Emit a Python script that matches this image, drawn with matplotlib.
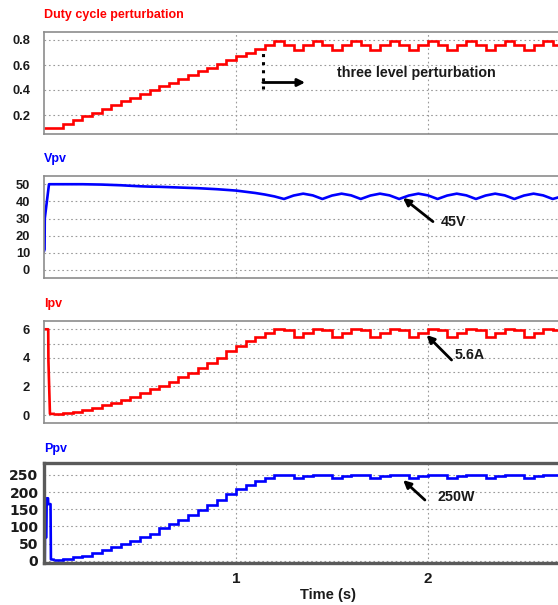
import numpy as np
import matplotlib
matplotlib.use('Agg')
import matplotlib.pyplot as plt

# values (time grid of 0.05 s)
edges = np.round(np.arange(0, 2.7001, 0.05), 2)

duty = [0.10, 0.10, 0.13, 0.16, 0.19, 0.22, 0.25, 0.28, 0.31, 0.34, 0.37,
        0.40, 0.43, 0.46, 0.49, 0.52, 0.55, 0.58, 0.61, 0.64, 0.67, 0.70,
        0.73, 0.76,
        0.795, 0.76, 0.72, 0.76, 0.795, 0.76, 0.72, 0.76, 0.795, 0.76, 0.72, 0.76,
        0.795, 0.76, 0.72, 0.76, 0.795, 0.76, 0.72, 0.76, 0.795, 0.76, 0.72, 0.76,
        0.795, 0.76, 0.72, 0.76, 0.795, 0.76]

vpv_start_t = [0, 0.003, 0.004, 0.026]
vpv_start = [11, 12, 30, 50]
vpv = [50.0, 50.0, 50.0, 50.0, 49.9, 49.8, 49.6, 49.4, 49.1, 48.8, 48.6,
       48.5, 48.3, 48.1, 47.9, 47.7, 47.4, 47.1, 46.7, 46.3, 45.6, 44.9,
       44.0, 42.9,
       41.4, 43.4, 44.5, 43.5, 41.4, 43.4, 44.5, 43.5, 41.4, 43.4, 44.5, 43.5,
       41.4, 43.4, 44.5, 43.5, 41.4, 43.4, 44.5, 43.5, 41.4, 43.4, 44.5, 43.5,
       41.4, 43.4, 44.5, 43.5, 41.4, 43.0]

ipv_start_t = [0, 0.022, 0.023, 0.031, 0.05]
ipv_start = [6.0, 6.0, 3.8, 0.08, 0.08]
ipv = [0.08, 0.15, 0.22, 0.32, 0.48, 0.68, 0.86, 1.05, 1.28, 1.52, 1.80,
       2.03, 2.33, 2.64, 2.97, 3.32, 3.67, 3.97, 4.45, 4.85, 5.16, 5.46, 5.76,
       6.0, 5.97, 5.45, 5.76, 6.0, 5.97, 5.45, 5.76, 6.0, 5.97, 5.45, 5.76,
       6.0, 5.97, 5.45, 5.76, 6.0, 5.97, 5.45, 5.76, 6.0, 5.97, 5.45, 5.76,
       6.0, 5.97, 5.45, 5.76, 6.0, 5.97]

ppv_start_t = [0, 0.004, 0.005, 0.012, 0.014, 0.021, 0.022, 0.034, 0.036, 0.05]
ppv_start = [0, 0, 65, 68, 182, 182, 165, 165, 4, 3]
ppv = [3, 6, 10, 15, 22, 32, 41, 50, 58, 68, 79, 95, 106, 119, 133, 148,
       163, 178, 194, 208, 220, 232, 241,
       249, 249, 241, 246, 249, 249, 241, 246, 249, 249, 241, 246,
       249, 249, 241, 246, 249, 249, 241, 246, 249, 249, 241, 246,
       249, 249, 241, 246, 249, 249]

W, H = 558, 605
RED, BLUE = '#ff0000', '#0000ff'
plt.rcParams['font.family'] = ['Liberation Sans', 'DejaVu Sans']

fig = plt.figure(figsize=(W / 100, H / 100), dpi=100)


def box(top, bottom, left=44, right=561):
    return [left / W, 1 - bottom / H, (right - left) / W, (bottom - top) / H]


def style(ax, ylim, yticks, pad=10, lsize=9.3, family=None, edge='#8c8c8c', ew=1.2):
    ax.set_xlim(0, 2.693)
    ax.set_ylim(*ylim)
    ax.set_xticks([1, 2])
    ax.set_yticks(yticks)
    ax.tick_params(length=0, pad=pad, labelsize=lsize, labelcolor='#1a1a1a')
    for lab in ax.get_yticklabels():
        lab.set_fontweight('bold')
        if family:
            lab.set_family(family)
    ax.grid(True, which='both', color='#9a9a9a', ls=(0, (1.5, 2.5)), lw=0.8)
    for s in ax.spines.values():
        s.set_color(edge)
        s.set_linewidth(ew)
    ax.set_axisbelow(True)


def title(y, text, color):
    fig.text(44 / W, 1 - y / H, text, color=color, fontweight='bold',
             fontsize=9, va='center', ha='left')


arrow = dict(arrowstyle='-|>', color='black', lw=2, mutation_scale=11,
             shrinkA=0, shrinkB=0)
note = dict(fontsize=10.3, fontweight='bold', color='#1a1a1a',
            va='center', ha='left')

# duty cycle
ax1 = fig.add_axes(box(32, 134))
ax1.stairs(duty, edges, baseline=None, color=RED, lw=1.9)
style(ax1, (0.048, 0.864), [0.2, 0.4, 0.6, 0.8])
ax1.set_yticklabels(['0.2', '0.4', '0.6', '0.8'])
ax1.set_xticklabels([])
ax1.plot([1.14, 1.14], [0.41, 0.70], color='black', ls=':', lw=2.2)
ax1.annotate('', xy=(1.36, 0.46), xytext=(1.14, 0.46), arrowprops=arrow)
ax1.text(1.524, 0.54, 'three level perturbation', **note)
title(15, 'Duty cycle perturbation', RED)

# Vpv
ax2 = fig.add_axes(box(176, 278))
ax2.plot(vpv_start_t + list(edges[1:]), vpv_start + vpv, color=BLUE, lw=1.9)
style(ax2, (-4.7, 54.8), [0, 10, 20, 30, 40, 50])
ax2.set_xticklabels([])
ax2.annotate('', xy=(1.87, 42.0), xytext=(2.026, 28.2), arrowprops=arrow)
ax2.text(2.066, 28.2, '45V', **note)
title(159, 'Vpv', BLUE)

# Ipv
ax3 = fig.add_axes(box(320.7, 423.3))
ax3.plot(ipv_start_t, ipv_start, color=RED, lw=1.9)
ax3.stairs(ipv, edges[1:], baseline=None, color=RED, lw=1.9)
style(ax3, (-0.58, 6.6), [0, 2, 4, 6])
ax3.set_yticks([1, 3, 5], minor=True)
ax3.tick_params(which='minor', length=0)
ax3.set_xticklabels([])
ax3.annotate('', xy=(1.993, 5.6), xytext=(2.123, 3.85), arrowprops=arrow)
ax3.text(2.141, 4.2, '5.6A', **note)
title(304, 'Ipv', RED)

# Ppv
ax4 = fig.add_axes(box(463.3, 562.7))
ax4.plot(ppv_start_t, ppv_start, color=BLUE, lw=1.9)
ax4.stairs(ppv, edges[1:], baseline=None, color=BLUE, lw=1.9)
style(ax4, (-5.8, 284), [0, 50, 100, 150, 200, 250], pad=4, lsize=10,
      family='DejaVu Sans', edge='#5a5a5a', ew=2.4)
ax4.set_xticklabels(['1', '2'])
for lab in ax4.get_xticklabels():
    lab.set_fontweight('bold')
    lab.set_fontsize(11)
ax4.tick_params(axis='x', pad=7)
ax4.annotate('', xy=(1.871, 235), xytext=(1.984, 177), arrowprops=arrow)
ax4.text(2.052, 187, '250W', **note)
title(449, 'Ppv', BLUE)

fig.text(328 / W, 1 - 595 / H, 'Time (s)', fontsize=10.5, fontweight='bold',
         color='#1a1a1a', ha='center', va='center')

fig.savefig('out.png', dpi=100)
